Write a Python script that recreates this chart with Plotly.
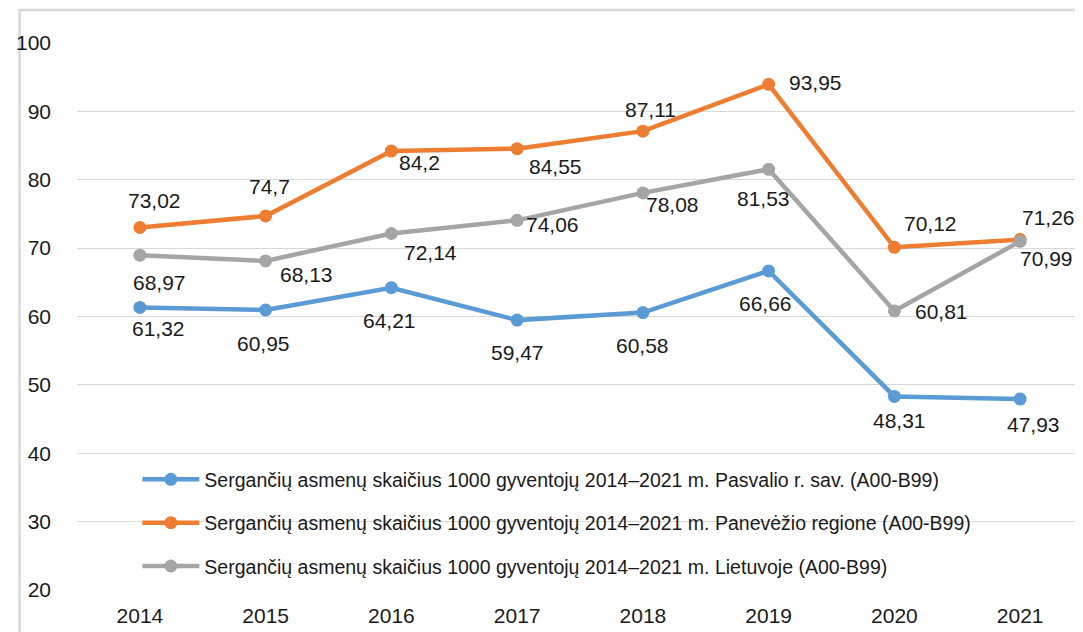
import plotly.graph_objects as go

years = [2014, 2015, 2016, 2017, 2018, 2019, 2020, 2021]

pasvalys = [61.32, 60.95, 64.21, 59.47, 60.58, 66.66, 48.31, 47.93]
panevezys = [73.02, 74.7, 84.2, 84.55, 87.11, 93.95, 70.12, 71.26]
lietuva = [68.97, 68.13, 72.14, 74.06, 78.08, 81.53, 60.81, 70.99]

names = [
    "Sergančių asmenų skaičius 1000 gyventojų 2014–2021 m. Pasvalio r. sav. (A00-B99)",
    "Sergančių asmenų skaičius 1000 gyventojų 2014–2021 m. Panevėžio regione (A00-B99)",
    "Sergančių asmenų skaičius 1000 gyventojų 2014–2021 m. Lietuvoje (A00-B99)",
]

y_ticks = [20, 30, 40, 50, 60, 70, 80, 90, 100]

# style: colours and label pixel offsets (xshift, yshift)
colors = ["#5B9BD5", "#ED7D31", "#A5A5A5"]
label_offsets = [
    [(19, -21), (-2, -33), (-2, -33), (0, -32), (0, -33), (-3, -33), (5, -24), (13, -25)],
    [(15, 27), (4, 29), (28, -11), (38, -18), (8, 22), (47, 2), (36, 24), (28, 22)],
    [(20, -27), (41, -14), (39, -19), (35, -4), (30, -12), (-5, -29), (47, -1), (26, -17)],
]

FONT = "Liberation Sans Narrow, Arial Narrow, Liberation Sans, Arial, sans-serif"
TXT = "#1a1a1a"

series = [pasvalys, panevezys, lietuva]

fig = go.Figure()
for i, (vals, name, col) in enumerate(zip(series, names, colors)):
    fig.add_trace(go.Scatter(
        x=years, y=vals, name=name, mode="lines+markers",
        line=dict(color=col, width=4.5),
        marker=dict(color=col, size=13),
        legendgroup=f"g{i}",
    ))

annotations = []
for vals, offs in zip(series, label_offsets):
    for x, v, (dx, dy) in zip(years, vals, offs):
        annotations.append(dict(
            x=x, y=v, xref="x", yref="y",
            text=f"{v:g}".replace(".", ","),
            showarrow=False, xshift=dx, yshift=dy,
            font=dict(family=FONT, size=21, color=TXT),
        ))

fig.update_layout(
    width=1083, height=632,
    margin=dict(l=59, r=8, t=35, b=50),
    paper_bgcolor="white", plot_bgcolor="white",
    font=dict(family=FONT, size=21, color=TXT),
    showlegend=True,
    legend=dict(
        x=0.060, y=0.2374, xanchor="left", yanchor="top",
        bgcolor="rgba(0,0,0,0)", itemwidth=57,
        tracegroupgap=15,
        font=dict(family=FONT, size=19.5, color=TXT),
    ),
    xaxis=dict(
        range=[years[0] - 0.5, years[-1] + 0.5], tickvals=years,
        showgrid=False, showline=False, zeroline=False,
        ticks="", ticklabelstandoff=11,
        tickfont=dict(family=FONT, size=21, color=TXT),
    ),
    yaxis=dict(
        range=[20, 100], tickvals=y_ticks, showgrid=True, gridcolor="#d9d9d9",
        gridwidth=1.3, zeroline=False, showline=False, ticks="",
        ticklabelstandoff=25,
        tickfont=dict(family=FONT, size=21, color=TXT),
    ),
    annotations=annotations,
    shapes=[dict(
        type="rect", xref="paper", yref="paper",
        x0=-0.0571, x1=1.05, y0=-0.2, y1=1.0603,
        line=dict(color="#d9d9d9", width=2.5), layer="below",
    )],
)

fig.write_html("out.html")
